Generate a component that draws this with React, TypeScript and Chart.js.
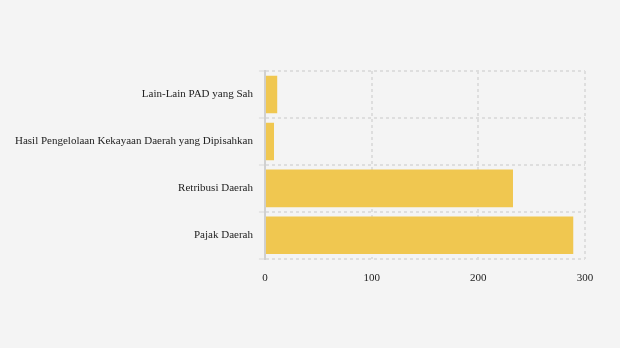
import React, { useEffect, useRef } from "react";
import { Chart, registerables } from "chart.js";

Chart.register(...registerables);

const categories = [
  "Lain-Lain PAD yang Sah",
  "Hasil Pengelolaan Kekayaan Daerah yang Dipisahkan",
  "Retribusi Daerah",
  "Pajak Daerah",
];
const values = [11.5, 8.5, 232.5, 289];
const xTicks = [0, 100, 200, 300];

const bgPlugin = {
  id: "bg",
  beforeDraw(chart: any) {
    const { ctx, width, height } = chart;
    ctx.save();
    ctx.fillStyle = "#f4f4f4";
    ctx.fillRect(0, 0, width, height);
    ctx.restore();
  },
};

export default function App() {
  const ref = useRef<HTMLCanvasElement>(null);
  useEffect(() => {
    document.body.style.margin = "0";
    document.body.style.background = "#f4f4f4";
    const chart = new Chart(ref.current!, {
      type: "bar",
      data: {
        labels: categories,
        datasets: [
          {
            data: values,
            backgroundColor: "#f0c750",
            barPercentage: 0.8,
            categoryPercentage: 1,
          },
        ],
      },
      options: {
        indexAxis: "y",
        animation: false,
        responsive: false,
        layout: { padding: { top: 71, right: 35, left: 9, bottom: 50 } },
        plugins: { legend: { display: false }, tooltip: { enabled: false } },
        scales: {
          x: {
            min: 0,
            max: 300,
            afterBuildTicks: (axis: any) => {
              axis.ticks = xTicks.map((v) => ({ value: v }));
            },
            grid: {
              color: "#dedede",
              lineWidth: 2,
              drawTicks: false,
            },
            border: { display: false, dash: [3, 3] },
            ticks: {
              padding: 13,
              color: "#222",
              font: { family: "'Liberation Serif', serif", size: 11 },
            },
          },
          y: {
            grid: {
              color: "#dedede",
              tickColor: "#e6e6e6",
              lineWidth: 2,
              tickLength: 6,
            },
            border: { display: true, color: "#d0d0d0", width: 2, dash: [3, 3] },
            ticks: {
              padding: 6,
              color: "#222",
              font: { family: "'Liberation Serif', serif", size: 11 },
            },
          },
        },
      },
      plugins: [bgPlugin],
    });
    const s: any = chart.options.scales;
    s.x.border.dash = [3, 3];
    s.y.border.dash = [3, 3];
    chart.update();
    return () => chart.destroy();
  }, []);
  return (
    <div style={{ width: 620, height: 348, background: "#f4f4f4" }}>
      <canvas ref={ref} width={620} height={348} />
    </div>
  );
}
